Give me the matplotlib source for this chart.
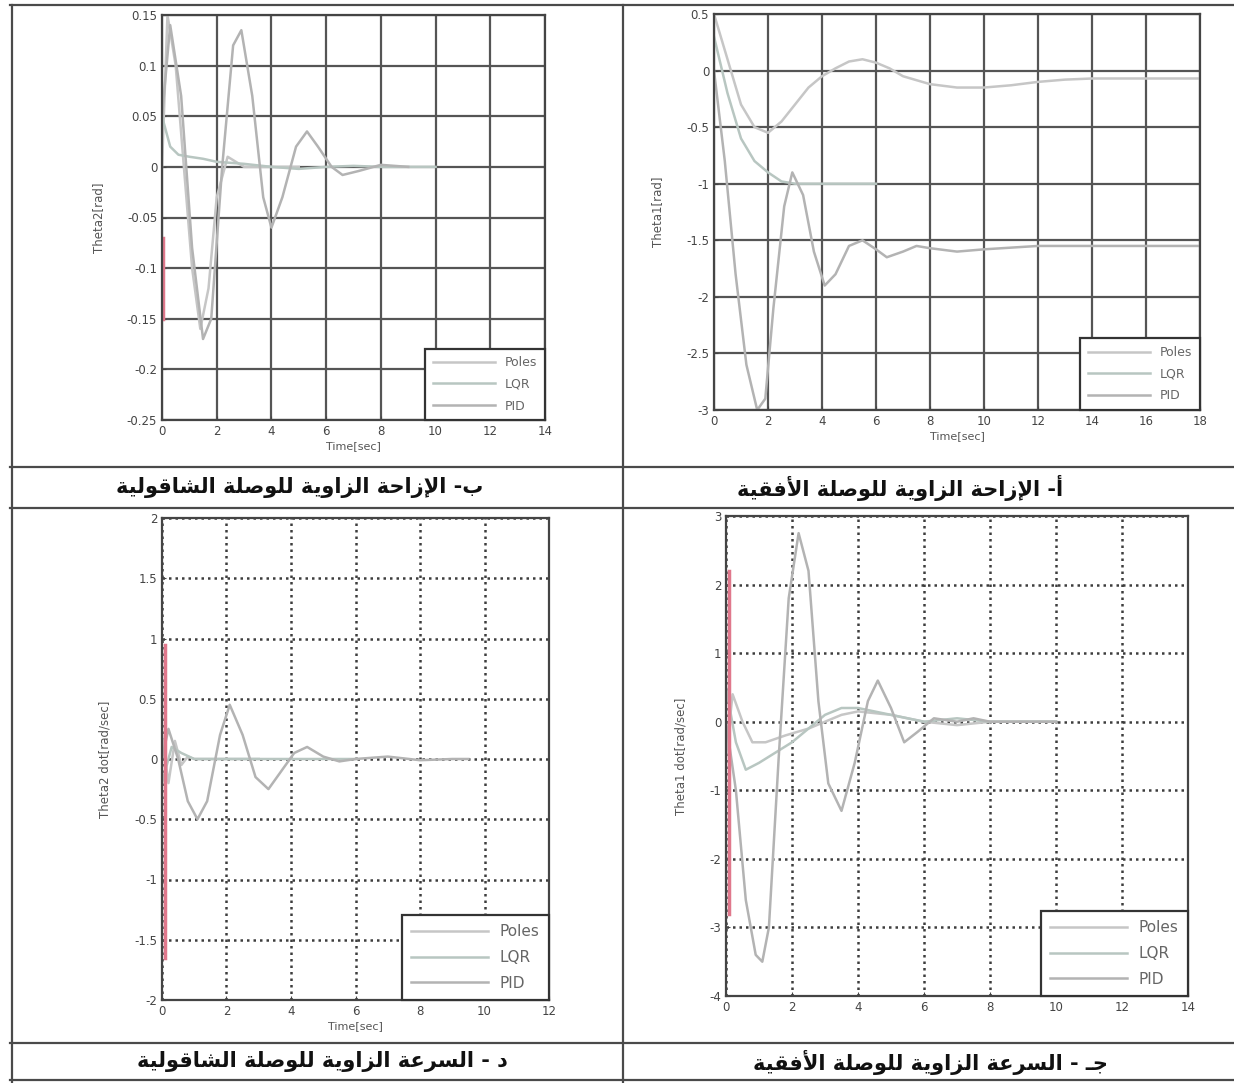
import numpy as np
import matplotlib
matplotlib.use("Agg")
import matplotlib.pyplot as plt
from matplotlib.lines import Line2D

# ---- data ----
series_names = ["Poles", "LQR", "PID"]

# (b) Theta2 [rad], vertical link
tl_t_poles = [0, 0.2, 0.5, 0.8, 1.1, 1.4, 1.7, 2.0, 2.4, 3, 4, 5]
tl_y_poles = [0.0, 0.15, 0.1, 0.0, -0.1, -0.16, -0.12, -0.03, 0.01, 0.0, 0.0, 0.0]
tl_t_lqr = [0, 0.3, 0.6, 1.0, 1.5, 2, 3, 4, 5, 6, 7, 8, 9, 10]
tl_y_lqr = [0.05, 0.02, 0.012, 0.01, 0.008, 0.005, 0.003, 0.0, -0.002, 0.0, 0.001, 0, 0, 0]
tl_t_pid = [0, 0.3, 0.7, 1.1, 1.5, 1.8, 2.2, 2.6, 2.9, 3.3, 3.7, 4.0, 4.4, 4.9, 5.3, 5.7, 6.2, 6.6, 7.2, 8, 9]
tl_y_pid = [0.05, 0.14, 0.07, -0.08, -0.17, -0.15, 0.0, 0.12, 0.135, 0.07, -0.03, -0.06, -0.03, 0.02,
            0.035, 0.02, 0.0, -0.008, -0.004, 0.002, 0.0]
tl_t_spike = [0.05, 0.05]
tl_y_spike = [-0.07, -0.15]
tl_yticks = [-0.25, -0.2, -0.15, -0.1, -0.05, 0, 0.05, 0.1, 0.15]
tl_xticks = [0, 2, 4, 6, 8, 10, 12, 14]

# (a) Theta1 [rad], horizontal link
tr_t_poles = [0, 0.5, 1, 1.5, 2, 2.5, 3, 3.5, 4, 4.5, 5, 5.5, 6, 6.5, 7, 8, 9, 10, 11, 12, 13, 14, 15, 16, 17, 18]
tr_y_poles = [0.5, 0.1, -0.3, -0.5, -0.55, -0.45, -0.3, -0.15, -0.05, 0.02, 0.08, 0.1, 0.07, 0.02, -0.05,
              -0.12, -0.15, -0.15, -0.13, -0.1, -0.08, -0.07, -0.07, -0.07, -0.07, -0.07]
tr_t_lqr = [0, 0.5, 1, 1.5, 2, 2.5, 3, 4, 5, 6]
tr_y_lqr = [0.3, -0.2, -0.6, -0.8, -0.9, -0.98, -1.0, -1.0, -1.0, -1.0]
tr_t_pid = [0, 0.4, 0.8, 1.2, 1.6, 1.9, 2.2, 2.6, 2.9, 3.3, 3.7, 4.1, 4.5, 5, 5.5, 6, 6.4, 7, 7.5, 8, 9,
            10, 12, 14, 16, 18]
tr_y_pid = [0.0, -0.8, -1.8, -2.6, -3.0, -2.9, -2.1, -1.2, -0.9, -1.1, -1.6, -1.9, -1.8, -1.55, -1.5,
            -1.58, -1.65, -1.6, -1.55, -1.57, -1.6, -1.58, -1.55, -1.55, -1.55, -1.55]
tr_yticks = [-3, -2.5, -2, -1.5, -1, -0.5, 0, 0.5]
tr_xticks = [0, 2, 4, 6, 8, 10, 12, 14, 16, 18]

# (d) Theta2 dot [rad/sec], vertical link
bl_t_poles = [0, 0.2, 0.4, 0.6, 0.8, 1.0, 1.3, 1.6, 2, 3]
bl_y_poles = [0.2, -0.2, 0.15, -0.05, 0.02, 0, 0, 0, 0, 0]
bl_t_lqr = [0, 0.3, 0.6, 1, 2, 3, 4, 5, 6]
bl_y_lqr = [-0.2, 0.1, 0.05, 0.0, 0, 0, 0, 0, 0]
bl_t_pid = [0, 0.2, 0.5, 0.8, 1.1, 1.4, 1.8, 2.1, 2.5, 2.9, 3.3, 3.7, 4.1, 4.5, 5, 5.5, 6, 7, 8, 9, 9.5]
bl_y_pid = [0, 0.25, 0.0, -0.35, -0.5, -0.35, 0.2, 0.45, 0.2, -0.15, -0.25, -0.1, 0.05, 0.1, 0.02,
            -0.02, 0.0, 0.02, -0.01, 0.0, 0.0]
bl_t_spike = [0.08, 0.08]
bl_y_spike = [0.95, -1.65]
bl_yticks = [-2, -1.5, -1, -0.5, 0, 0.5, 1, 1.5, 2]
bl_xticks = [0, 2, 4, 6, 8, 10, 12]

# (c) Theta1 dot [rad/sec], horizontal link
br_t_poles = [0, 0.2, 0.5, 0.8, 1.2, 1.8, 2.5, 3, 3.5, 4, 5, 6, 7, 8, 9, 10]
br_y_poles = [-0.5, 0.4, 0.0, -0.3, -0.3, -0.2, -0.1, 0.0, 0.1, 0.15, 0.1, 0.0, -0.05, 0.0, 0.0, 0.0]
br_t_lqr = [0, 0.3, 0.6, 1.0, 1.5, 2.0, 2.5, 3.0, 3.5, 4.0, 5, 6, 7, 8, 9, 10]
br_y_lqr = [0.5, -0.3, -0.7, -0.6, -0.45, -0.3, -0.1, 0.1, 0.2, 0.2, 0.1, 0.0, 0.05, 0.0, 0.0, 0.0]
br_t_pid = [0, 0.3, 0.6, 0.9, 1.1, 1.3, 1.6, 1.9, 2.2, 2.5, 2.8, 3.1, 3.5, 3.9, 4.3, 4.6, 5.0, 5.4, 5.8,
            6.3, 7, 7.5, 8, 9, 10]
br_y_pid = [0, -1.0, -2.6, -3.4, -3.5, -3.0, -0.5, 1.8, 2.75, 2.2, 0.3, -0.9, -1.3, -0.6, 0.3, 0.6, 0.2,
            -0.3, -0.15, 0.05, 0.0, 0.05, 0.0, 0.0, 0.0]
br_t_spike = [0.1, 0.1]
br_y_spike = [2.2, -2.8]
br_yticks = [-4, -3, -2, -1, 0, 1, 2, 3]
br_xticks = [0, 2, 4, 6, 8, 10, 12, 14]

captions = [
    "ب- الإزاحة الزاوية للوصلة الشاقولية",
    "أ- الإزاحة الزاوية للوصلة الأفقية",
    "د - السرعة الزاوية للوصلة الشاقولية",
    "جـ - السرعة الزاوية للوصلة الأفقية",
]

# ---- minimal Arabic shaping (matplotlib has no bidi/joining) ----
# isolated, final, initial, medial
FORMS = {
    'ا': ('\uFE8D', '\uFE8E', None, None),
    'أ': ('\uFE83', '\uFE84', None, None),
    'إ': ('\uFE87', '\uFE88', None, None),
    'ب': ('\uFE8F', '\uFE90', '\uFE91', '\uFE92'),
    'ة': ('\uFE93', '\uFE94', None, None),
    'ج': ('\uFE9D', '\uFE9E', '\uFE9F', '\uFEA0'),
    'ح': ('\uFEA1', '\uFEA2', '\uFEA3', '\uFEA4'),
    'د': ('\uFEA9', '\uFEAA', None, None),
    'ر': ('\uFEAD', '\uFEAE', None, None),
    'ز': ('\uFEAF', '\uFEB0', None, None),
    'س': ('\uFEB1', '\uFEB2', '\uFEB3', '\uFEB4'),
    'ش': ('\uFEB5', '\uFEB6', '\uFEB7', '\uFEB8'),
    'ص': ('\uFEB9', '\uFEBA', '\uFEBB', '\uFEBC'),
    'ع': ('\uFEC9', '\uFECA', '\uFECB', '\uFECC'),
    'ف': ('\uFED1', '\uFED2', '\uFED3', '\uFED4'),
    'ق': ('\uFED5', '\uFED6', '\uFED7', '\uFED8'),
    'ل': ('\uFEDD', '\uFEDE', '\uFEDF', '\uFEE0'),
    'و': ('\uFEED', '\uFEEE', None, None),
    'ي': ('\uFEF1', '\uFEF2', '\uFEF3', '\uFEF4'),
}
LAM_ALEF = {'ا': ('\uFEFB', '\uFEFC'), 'أ': ('\uFEF7', '\uFEF8'), 'إ': ('\uFEF9', '\uFEFA')}
TATWEEL = 'ـ'


def links_forward(c):
    return c == TATWEEL or (c in FORMS and FORMS[c][2] is not None)


def shape_arabic(text):
    out = []
    i = 0
    n = len(text)
    while i < n:
        c = text[i]
        prev = text[i - 1] if i > 0 else ''
        if c not in FORMS:
            out.append(c)
            i += 1
            continue
        jp = bool(prev) and links_forward(prev)
        if c == 'ل' and i + 1 < n and text[i + 1] in LAM_ALEF:
            iso, fin = LAM_ALEF[text[i + 1]]
            out.append(fin if jp else iso)
            i += 2
            continue
        nxt = text[i + 1] if i + 1 < n else ''
        jn = FORMS[c][2] is not None and (nxt in FORMS or nxt == TATWEEL)
        iso, fin, ini, med = FORMS[c]
        out.append(med if (jp and jn) else fin if jp else ini if jn else iso)
        i += 1
    return ''.join(reversed(out))


# ---- figure ----
W, H = 1234, 1083
fig = plt.figure(figsize=(W / 100, H / 100), dpi=100)
fig.patch.set_facecolor('white')


def px_axes(left, top, right, bottom):
    return fig.add_axes([left / W, 1 - bottom / H, (right - left) / W, (bottom - top) / H])


line_colors = ['#c6c6c6', '#b8c6c1', '#b3b3b3']


def panel(ax, curves, spike, xticks, yticks, xlabel, ylabel, dotted, legsize):
    for (t, y), name, col in zip(curves, series_names, line_colors):
        ax.plot(t, y, color=col, lw=1.8, label=name)
    if spike is not None:
        ax.plot(spike[0], spike[1], color='#e0788c', lw=2.5)
    ax.set_xlim(xticks[0], xticks[-1])
    ax.set_ylim(yticks[0], yticks[-1])
    ax.set_xticks(xticks)
    ax.set_yticks(yticks)
    ax.set_xticklabels([f"{v:g}" for v in xticks])
    ax.set_yticklabels([f"{v:g}" for v in yticks])
    ax.tick_params(labelsize=8.5, colors='#444444', length=3, direction='in')
    if dotted:
        ax.grid(True, color='#3d3d3d', lw=1.8, ls=(0, (1, 1.6)))
    else:
        ax.grid(True, color='#555555', lw=1.6, ls='-')
    for s in ax.spines.values():
        s.set_color('#444444')
        s.set_linewidth(1.6)
    if xlabel:
        ax.set_xlabel(xlabel, fontsize=8, color='#555555', labelpad=2)
    ax.set_ylabel(ylabel, fontsize=8.5, color='#555555', labelpad=16)
    leg = ax.legend(loc='lower right', fontsize=legsize, handlelength=5, borderaxespad=0.0,
                    fancybox=False, framealpha=1, edgecolor='#333333', labelspacing=0.7,
                    borderpad=0.6)
    leg.get_frame().set_linewidth(1.6)
    for txt in leg.get_texts():
        txt.set_color('#666666')


ax_tl = px_axes(162, 15, 545, 420)
panel(ax_tl, [(tl_t_poles, tl_y_poles), (tl_t_lqr, tl_y_lqr), (tl_t_pid, tl_y_pid)],
      (tl_t_spike, tl_y_spike), tl_xticks, tl_yticks, "Time[sec]", "Theta2[rad]", False, 9)

ax_tr = px_axes(714, 14, 1200, 410)
panel(ax_tr, [(tr_t_poles, tr_y_poles), (tr_t_lqr, tr_y_lqr), (tr_t_pid, tr_y_pid)],
      None, tr_xticks, tr_yticks, "Time[sec]", "Theta1[rad]", False, 9)

ax_bl = px_axes(162, 518, 549, 1000)
panel(ax_bl, [(bl_t_poles, bl_y_poles), (bl_t_lqr, bl_y_lqr), (bl_t_pid, bl_y_pid)],
      (bl_t_spike, bl_y_spike), bl_xticks, bl_yticks, "Time[sec]", "Theta2 dot[rad/sec]", True, 11)

ax_br = px_axes(726, 516, 1188, 996)
panel(ax_br, [(br_t_poles, br_y_poles), (br_t_lqr, br_y_lqr), (br_t_pid, br_y_pid)],
      (br_t_spike, br_y_spike), br_xticks, br_yticks, None, "Theta1 dot[rad/sec]", True, 11)

# table frame of the scanned page
frame_col = '#4a4a4a'
for yy in [5, 467, 508, 1043, 1080]:
    fig.add_artist(Line2D([10 / W, 1.0], [1 - yy / H, 1 - yy / H], color=frame_col, lw=1.6))
for xx in [12, 623]:
    fig.add_artist(Line2D([xx / W, xx / W], [1 - 5 / H, 1 - 1083 / H], color=frame_col, lw=1.6))

# Arabic captions
cap_pos = [(300, 488), (900, 488), (322, 1062), (930, 1062)]
for text, (cx, cy) in zip(captions, cap_pos):
    fig.text(cx / W, 1 - cy / H, shape_arabic(text), ha='center', va='center',
             fontsize=15, fontweight='bold', family=['DejaVu Sans'], color='#111111')

fig.savefig('out.png', dpi=100, facecolor='white')
